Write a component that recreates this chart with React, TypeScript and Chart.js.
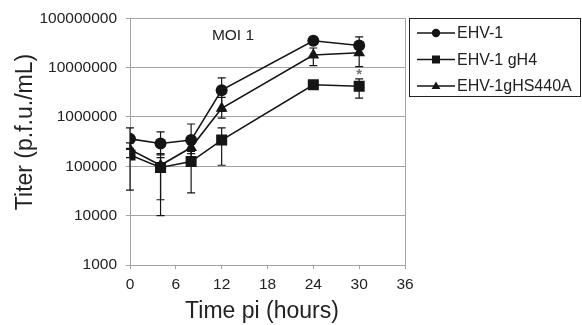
import React, { useEffect, useRef } from "react";
import { Chart, registerables } from "chart.js";

Chart.register(...registerables);

const hours = [0, 4, 8, 12, 24, 30];
const xTicks = [0, 6, 12, 18, 24, 30, 36];
const yTicks = [1000, 10000, 100000, 1000000, 10000000, 100000000];

const seriesNames = ["EHV-1", "EHV-1 gH4", "EHV-1gHS440A"];
const ehv1 = [360000, 290000, 340000, 3500000, 35000000, 28000000];
const ehv1Up = [600000, 500000, 720000, 6200000, 40000000, 42000000];
const ehv1Low = [220000, 170000, 180000, 1300000, 30000000, 18000000];

const gh4 = [170000, 95000, 125000, 340000, 4500000, 4200000];
const gh4Up = [230000, 180000, 200000, 600000, 5000000, 5900000];
const gh4Low = [33000, 10000, 29000, 105000, 3800000, 2400000];

const gHS = [220000, 105000, 240000, 1500000, 18000000, 20000000];
const gHSUp = [300000, 150000, 400000, 2500000, 25000000, 30000000];
const gHSLow = [150000, 21000, 130000, 950000, 11000000, 10500000];

const annotationText = "MOI 1";
const asteriskHour = 30;
const asteriskValue = 8200000;

const INK = "#151515";
const GRID = "#a3a3a3";
const FONT = "'Liberation Sans', Arial, Helvetica, sans-serif";

function drawMarker(ctx: CanvasRenderingContext2D, style: string, x: number, y: number, r: number) {
  ctx.beginPath();
  if (style === "circle") {
    ctx.arc(x, y, r, 0, Math.PI * 2);
  } else if (style === "rect") {
    ctx.rect(x - r, y - r, 2 * r, 2 * r);
  } else {
    const h = r * 1.8;
    ctx.moveTo(x, y - h * 0.6);
    ctx.lineTo(x + r * 1.05, y + h * 0.4);
    ctx.lineTo(x - r * 1.05, y + h * 0.4);
    ctx.closePath();
  }
  ctx.fill();
}

const errorBars = [
  { up: ehv1Up, low: ehv1Low },
  { up: gh4Up, low: gh4Low },
  { up: gHSUp, low: gHSLow },
];

const extrasPlugin = {
  id: "extras",
  beforeDatasetsDraw(chart: any) {
    const ctx = chart.ctx as CanvasRenderingContext2D;
    const xs = chart.scales.x;
    const ys = chart.scales.y;
    ctx.save();
    ctx.strokeStyle = INK;
    ctx.lineWidth = 1.2;
    errorBars.forEach((eb) => {
      hours.forEach((h, i) => {
        const x = xs.getPixelForValue(h);
        const yu = ys.getPixelForValue(eb.up[i]);
        const yl = ys.getPixelForValue(eb.low[i]);
        ctx.beginPath();
        ctx.moveTo(x, yu);
        ctx.lineTo(x, yl);
        ctx.moveTo(x - 4, yu);
        ctx.lineTo(x + 4, yu);
        ctx.moveTo(x - 4, yl);
        ctx.lineTo(x + 4, yl);
        ctx.stroke();
      });
    });
    ctx.restore();
  },
  afterDraw(chart: any) {
    const ctx = chart.ctx as CanvasRenderingContext2D;
    const area = chart.chartArea;
    const xs = chart.scales.x;
    const ys = chart.scales.y;
    ctx.save();
    // axis titles
    ctx.fillStyle = "#222";
    ctx.font = `23px ${FONT}`;
    ctx.textAlign = "center";
    ctx.textBaseline = "middle";
    ctx.fillText("Time pi (hours)", 262, 312);
    ctx.save();
    ctx.translate(26, 132);
    ctx.rotate(-Math.PI / 2);
    ctx.fillText("Titer (p.f.u./mL)", 0, 0);
    ctx.restore();
    // annotation
    ctx.font = `15.5px ${FONT}`;
    ctx.fillText(annotationText, area.left + 103, area.top + 17);
    // asterisk
    ctx.fillStyle = "#777";
    ctx.font = `bold 15px ${FONT}`;
    ctx.fillText("*", xs.getPixelForValue(asteriskHour), ys.getPixelForValue(asteriskValue) + 3);
    // legend
    ctx.strokeStyle = "#222";
    ctx.lineWidth = 1;
    ctx.strokeRect(409.5, 18.5, 171, 78);
    const styles = ["circle", "rect", "triangle"];
    const rowsY = [33, 59.5, 86];
    ctx.font = `16px ${FONT}`;
    ctx.textAlign = "left";
    seriesNames.forEach((name, i) => {
      const y = rowsY[i];
      ctx.strokeStyle = INK;
      ctx.lineWidth = 1.5;
      ctx.beginPath();
      ctx.moveTo(417, y);
      ctx.lineTo(455, y);
      ctx.stroke();
      ctx.fillStyle = INK;
      drawMarker(ctx, styles[i], 436, y, i === 1 ? 4 : 4.2);
      ctx.fillStyle = "#222";
      ctx.fillText(name, 457, y + 1);
    });
    ctx.restore();
  },
};

export default function App() {
  const ref = useRef<HTMLCanvasElement | null>(null);
  useEffect(() => {
    if (!ref.current) return;
    const mk = (label: string, data: number[], style: string, radius: number) => ({
      label,
      data: hours.map((h, i) => ({ x: h, y: data[i] })),
      borderColor: INK,
      backgroundColor: INK,
      pointBackgroundColor: INK,
      pointBorderColor: INK,
      borderWidth: 1.6,
      pointStyle: style,
      pointRadius: radius,
      pointBorderWidth: 0,
      tension: 0,
      fill: false,
    });
    const chart = new Chart(ref.current, {
      type: "line",
      data: {
        datasets: [
          mk(seriesNames[0], ehv1, "circle", 6),
          mk(seriesNames[1], gh4, "rect", 7.8),
          mk(seriesNames[2], gHS, "triangle", 6.8),
        ] as any,
      },
      options: {
        animation: false,
        responsive: false,
        maintainAspectRatio: false,
        layout: { padding: { left: 0, top: 16, right: 177, bottom: 0 } },
        plugins: { legend: { display: false }, tooltip: { enabled: false } },
        scales: {
          x: {
            type: "linear",
            min: 0,
            max: 36,
            afterBuildTicks: (s: any) => {
              s.ticks = xTicks.map((v) => ({ value: v }));
            },
            afterFit: (s: any) => {
              s.height = 60;
            },
            border: { color: GRID, width: 1 },
            grid: {
              color: (c: any) => (c.tick && c.tick.value === 36 ? GRID : "rgba(0,0,0,0)"),
              tickColor: GRID,
              tickLength: 4,
              drawTicks: true,
            },
            ticks: {
              color: "#222",
              font: { size: 15.5, family: FONT },
              padding: 6,
              maxRotation: 0,
              autoSkip: false,
            },
          },
          y: {
            type: "logarithmic",
            min: 1000,
            max: 100000000,
            afterBuildTicks: (s: any) => {
              s.ticks = yTicks.map((v) => ({ value: v }));
            },
            afterFit: (s: any) => {
              s.width = 130;
            },
            border: { color: GRID, width: 1 },
            grid: { color: GRID, tickColor: GRID, tickLength: 4, lineWidth: 1 },
            ticks: {
              color: "#222",
              font: { size: 15.5, family: FONT },
              padding: 9,
              autoSkip: false,
              callback: (v: any) => String(v),
            },
          },
        },
      } as any,
      plugins: [extrasPlugin],
    });
    return () => chart.destroy();
  }, []);
  return (
    <div style={{ position: "fixed", left: 0, top: 0, width: 582, height: 325, background: "#fff" }}>
      <canvas ref={ref} width={582} height={325} style={{ width: 582, height: 325 }} />
    </div>
  );
}
